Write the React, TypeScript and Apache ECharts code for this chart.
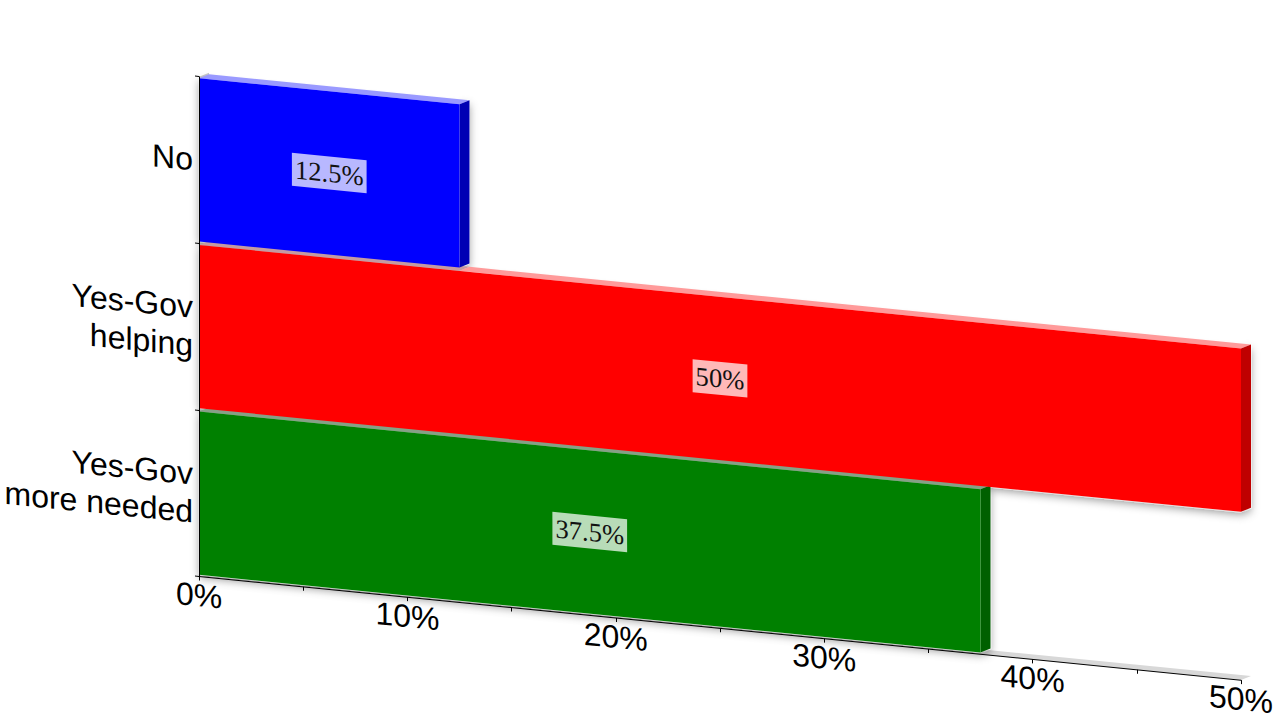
import React, { useEffect, useRef } from "react";
import * as echarts from "echarts";

const categories = ["No", "Yes-Gov\nhelping", "Yes-Gov\nmore needed"];
const percentages = [12.5, 50, 37.5];
const valueLabels = ["12.5%", "50%", "37.5%"];
const frontColors = ["#0000ff", "#ff0000", "#008000"];
const sideColors = ["#0000b4", "#bf0000", "#006000"];
const topColors = ["#9a9aff", "#ff9a9a", "#9ac49a"];
const shadedTopColors = ["#9a9aff", "#c49aa2", "#86a086"];

const SLOPE = 0.0995;
const DEPTH_X = 10;
const DEPTH_Y = -5;
const BAR_RATIO = 0.98;

function barCorners(api: any, value: number, index: number) {
  const left = api.coord([0, index]);
  const right = api.coord([value, index]);
  const band = api.size([0, 1])[1];
  const half = (band * BAR_RATIO) / 2;
  return { x0: left[0], x1: right[0], top: left[1] - half, bottom: left[1] + half, mid: left[1] };
}

function poly(points: number[][], fill: string, extra: any = {}) {
  return { type: "polygon", silent: true, shape: { points }, style: { fill, ...extra } };
}

const renderBackdrop = (_: any, api: any) => {
  const max = api.value(0);
  const o = api.coord([0, categories.length - 1]);
  const end = api.coord([max, categories.length - 1]);
  const band = api.size([0, 1])[1];
  const bottom = o[1] + band / 2;
  const top = o[1] - band * (categories.length - 0.5);
  return {
    type: "group",
    children: [
      poly(
        [
          [o[0], top],
          [o[0] + DEPTH_X, top + DEPTH_Y],
          [o[0] + DEPTH_X, bottom + DEPTH_Y],
          [o[0], bottom],
        ],
        "#c8c8c8",
      ),
      poly(
        [
          [o[0], bottom],
          [end[0], bottom],
          [end[0] + DEPTH_X, bottom + DEPTH_Y],
          [o[0] + DEPTH_X, bottom + DEPTH_Y],
        ],
        "#d8d8d8",
      ),
    ],
  };
};

const renderShadow = (_: any, api: any) => {
  const c = barCorners(api, api.value(0), api.value(1));
  return poly(
    [
      [c.x0, c.top],
      [c.x1, c.top],
      [c.x1 + DEPTH_X, c.top + DEPTH_Y],
      [c.x1 + DEPTH_X, c.bottom + DEPTH_Y],
      [c.x1, c.bottom],
      [c.x0, c.bottom],
    ],
    "#ffffff",
    { shadowBlur: 8, shadowOffsetY: 3, shadowColor: "rgba(0,0,0,0.38)" },
  );
};

const renderBar = (_: any, api: any) => {
  const i = api.value(1);
  const c = barCorners(api, api.value(0), i);
  const previous = i > 0 ? percentages[i - 1] : 0;
  const split = api.coord([Math.min(previous, api.value(0)), i])[0];
  const children: any[] = [];
  if (split > c.x0) {
    children.push(
      poly(
        [
          [c.x0, c.top],
          [split, c.top],
          [split + DEPTH_X, c.top + DEPTH_Y],
          [c.x0 + DEPTH_X, c.top + DEPTH_Y],
        ],
        shadedTopColors[i],
      ),
    );
  }
  children.push(
    poly(
      [
        [split, c.top],
        [c.x1, c.top],
        [c.x1 + DEPTH_X, c.top + DEPTH_Y],
        [split + DEPTH_X, c.top + DEPTH_Y],
      ],
      topColors[i],
    ),
    poly(
      [
        [c.x1, c.top],
        [c.x1 + DEPTH_X, c.top + DEPTH_Y],
        [c.x1 + DEPTH_X, c.bottom + DEPTH_Y],
        [c.x1, c.bottom],
      ],
      sideColors[i],
    ),
    poly(
      [
        [c.x0, c.top],
        [c.x1, c.top],
        [c.x1, c.bottom],
        [c.x0, c.bottom],
      ],
      frontColors[i],
    ),
    {
      type: "text",
      silent: true,
      x: (c.x0 + c.x1) / 2,
      y: c.mid,
      style: {
        text: valueLabels[i],
        fontFamily: "Liberation Serif",
        fontSize: 26.6,
        fill: "#111111",
        align: "center",
        verticalAlign: "middle",
        backgroundColor: "rgba(255,255,255,0.72)",
        padding: [3, 3, 3, 3],
      },
    },
  );
  return { type: "group", children };
};

export default function App() {
  const ref = useRef<HTMLDivElement>(null);

  useEffect(() => {
    document.body.style.margin = "0";
    const chart = echarts.init(ref.current!, undefined, { renderer: "svg" });
    // Drawn from the lowest bar upwards, so each bar covers the top face of the one beneath it.
    const barData = percentages.map((v, i) => [v, i]).reverse();
    const axisFont = {
      fontFamily: "Liberation Sans",
      fontSize: 32,
      color: "#000000",
    };
    chart.setOption({
      animation: false,
      backgroundColor: "#ffffff",
      grid: { left: 199, top: 76.7, width: 1042, height: 499.7, containLabel: false },
      xAxis: {
        type: "value",
        min: 0,
        max: 50,
        interval: 10,
        z: 6,
        splitLine: { show: false },
        minorSplitLine: { show: false },
        axisLine: { show: true, onZero: false, lineStyle: { color: "#000000", width: 1 } },
        axisTick: { show: true, length: 4, lineStyle: { color: "#000000" } },
        minorTick: { show: true, splitNumber: 2, length: 4, lineStyle: { color: "#000000" } },
        axisLabel: { ...axisFont, margin: 3, formatter: "{value}%", hideOverlap: false },
      },
      yAxis: {
        type: "category",
        inverse: true,
        data: categories,
        z: 6,
        splitLine: { show: false },
        axisLine: { show: true, onZero: false, lineStyle: { color: "#000000", width: 1 } },
        axisTick: { show: true, length: 4, alignWithLabel: false, lineStyle: { color: "#000000" } },
        axisLabel: { ...axisFont, margin: 6, lineHeight: 38, align: "right" },
      },
      series: [
        { type: "custom", z: 1, clip: false, silent: true, encode: { x: 0 }, data: [[50]], renderItem: renderBackdrop },
        { type: "custom", z: 2, clip: false, silent: true, encode: { x: 0 }, data: barData, renderItem: renderShadow },
        { type: "custom", z: 3, clip: false, silent: true, encode: { x: 0 }, data: barData, renderItem: renderBar },
      ],
    });
    return () => chart.dispose();
  }, []);

  return (
    <div style={{ position: "fixed", inset: 0, overflow: "hidden", background: "#ffffff" }}>
      <div
        ref={ref}
        style={{
          width: 1280,
          height: 720,
          transformOrigin: "199px 0",
          transform: `matrix(1, ${SLOPE}, 0, 1, 0, 0)`,
        }}
      />
    </div>
  );
}
